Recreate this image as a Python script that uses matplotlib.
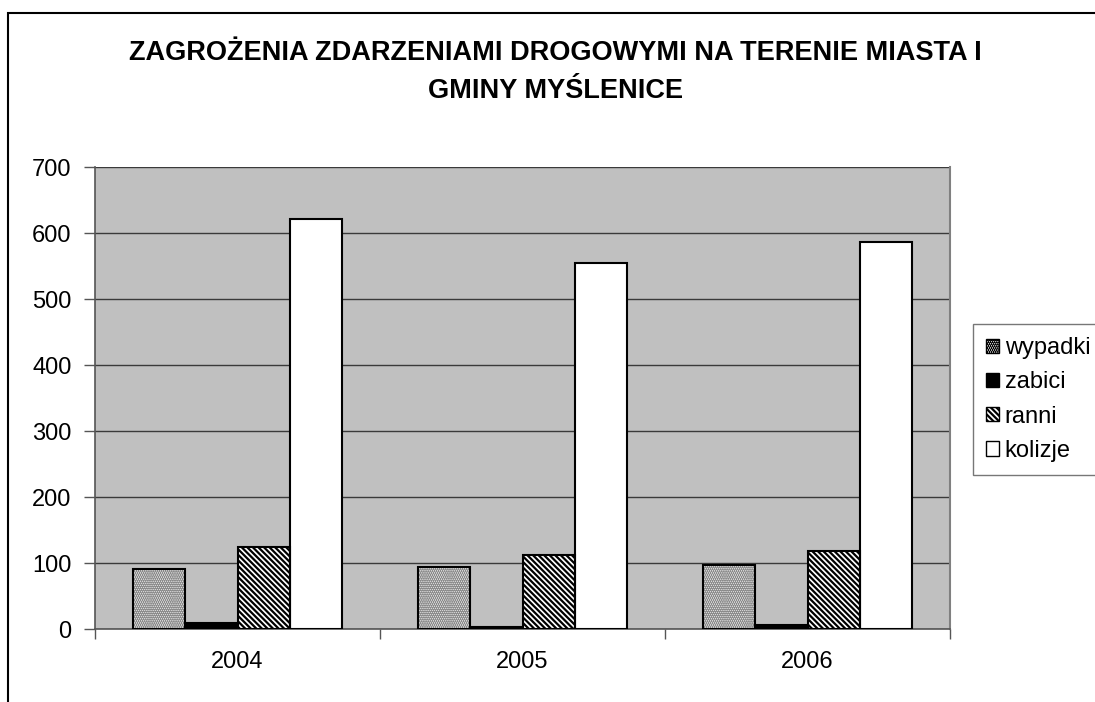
import matplotlib
matplotlib.use("Agg")
import matplotlib.pyplot as plt
import matplotlib.patches as mpatches
import numpy as np

plt.rcParams["font.family"] = ["Liberation Sans", "DejaVu Sans"]
plt.rcParams["hatch.linewidth"] = 1.6

years = ["2004", "2005", "2006"]
series = ["wypadki", "zabici", "ranni", "kolizje"]
wypadki = [91, 94, 97]
zabici = [9, 3, 6]
ranni = [124, 112, 118]
kolizje = [621, 554, 587]

values = [wypadki, zabici, ranni, kolizje]
faces = ["#e4e4e4", "black", "white", "white"]
hatches = ["........", None, "\\\\\\\\\\\\", None]
hatch_colors = ["#8a8a8a", "black", "black", "black"]

fig = plt.figure(figsize=(10.95, 7.02), dpi=100)
ax = fig.add_axes([95 / 1095, 1 - 629 / 702, 855 / 1095, 462 / 702])
ax.set_facecolor("#c0c0c0")

x = np.arange(len(years))
w = 0.1825
handles = []
for i, (name, vals) in enumerate(zip(series, values)):
    pos = x + (i - 1.5) * w
    # hatch layer, then a plain black outline on top
    ax.bar(pos, vals, width=w, color=faces[i], hatch=hatches[i],
           edgecolor=hatch_colors[i], linewidth=0, zorder=3)
    ax.bar(pos, vals, width=w, fill=False, edgecolor="black",
           linewidth=1.5, zorder=4)
    handles.append(mpatches.Patch(facecolor=faces[i], hatch=hatches[i],
                                  edgecolor="black", linewidth=1.0, label=name))

ax.set_xlim(-0.5, 2.5)
ax.set_ylim(0, 700)
ax.set_yticks(range(0, 701, 100))
ax.yaxis.grid(True, color="#3a3a3a", linewidth=1.0, zorder=1)
ax.set_axisbelow(True)

ax.set_xticks([-0.5, 0.5, 1.5, 2.5])
ax.set_xticklabels([])
ax.set_xticks(x, minor=True)
ax.set_xticklabels(years, minor=True)
ax.tick_params(axis="x", which="major", length=7, color="#555555", width=1)
ax.tick_params(axis="x", which="minor", length=0, pad=16, labelsize=17)
ax.tick_params(axis="y", length=8, color="#555555", width=1, labelsize=17, pad=9)

for side in ["left", "bottom"]:
    ax.spines[side].set_color("#555555")
    ax.spines[side].set_linewidth(1.2)
ax.spines["top"].set_visible(False)
ax.spines["right"].set_color("#808080")
ax.spines["right"].set_linewidth(1.5)

fig.text(0.507, 1 - 53 / 702, "ZAGROŻENIA ZDARZENIAMI DROGOWYMI NA TERENIE MIASTA I",
         ha="center", va="center", fontsize=19.5, fontweight="bold")
fig.text(0.507, 1 - 91 / 702, "GMINY MYŚLENICE",
         ha="center", va="center", fontsize=19.5, fontweight="bold")

leg = fig.legend(handles=handles, loc="upper left",
                 bbox_to_anchor=(973 / 1095, 1 - 324 / 702),
                 frameon=True, fancybox=False, edgecolor="#555555",
                 fontsize=17, handlelength=0.55, handleheight=0.55,
                 handletextpad=0.25, labelspacing=0.52, borderaxespad=0,
                 borderpad=0.55)
leg.get_frame().set_linewidth(1.0)

fig.patches.append(mpatches.Rectangle((8 / 1095, -0.1), 1.2, 1 - 13 / 702 + 0.1,
                                      transform=fig.transFigure, fill=False,
                                      edgecolor="black", linewidth=1.5))

fig.savefig("out.png", dpi=100)
